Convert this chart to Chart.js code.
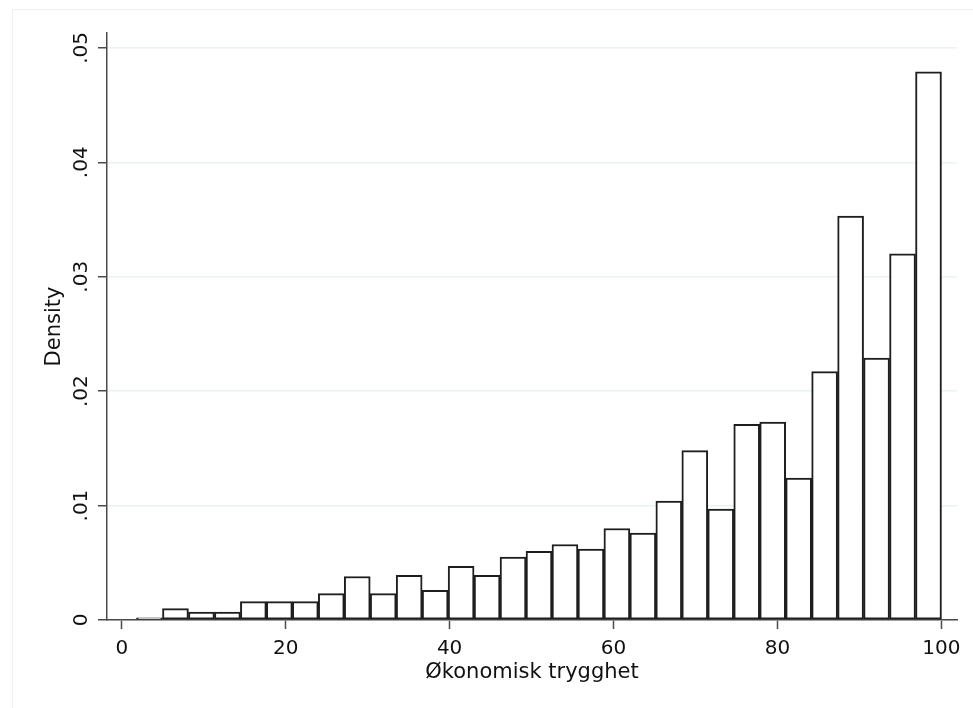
<!DOCTYPE html>
<html>
<head>
<meta charset="utf-8">
<script src="https://cdn.jsdelivr.net/npm/chart.js@4.4.0/dist/chart.umd.min.js"></script>
<style>
  html, body { margin: 0; padding: 0; background: #ffffff; }
  #wrap { position: relative; width: 973px; height: 708px; overflow: hidden; }
  #frame { position: absolute; left: 12px; top: 9px; width: 1000px; height: 800px;
           border-left: 1px solid #f1f1f1; border-top: 1px solid #f1f1f1; }
  #chart { position: absolute; left: 0; top: 0; }
</style>
</head>
<body>
<div id="wrap">
  <div id="frame"></div>
  <canvas id="chart" width="973" height="708"></canvas>
</div>
<script>
// histogram of "Økonomisk trygghet", 31 bins
const binStart = 1.8;
const binWidth = 3.168;
const density = [
  0.0002, 0.0010, 0.0007, 0.0007, 0.0016, 0.0016, 0.0016, 0.0023, 0.0038, 0.0023,
  0.0039, 0.0026, 0.0047, 0.0039, 0.0055, 0.0060, 0.0066, 0.0062, 0.0080, 0.0076,
  0.0104, 0.0148, 0.0097, 0.0171, 0.0173, 0.0124, 0.0217, 0.0353, 0.0229, 0.0320,
  0.0479
];
const xTicks = [0, 20, 40, 60, 80, 100];
const yTicks = [0, 0.01, 0.02, 0.03, 0.04, 0.05];

const xTitle = "Økonomisk trygghet";
const yTitle = "Density";

const points = density.map((d, i) => ({ x: binStart + binWidth * (i + 0.5), y: d }));

Chart.defaults.font.family = "'DejaVu Sans', sans-serif";
Chart.defaults.color = "#111";

const axisColor = "#4a4a4a";
const gridColor = "#eaf2f3";

new Chart(document.getElementById("chart"), {
  type: "bar",
  data: {
    datasets: [{
      data: points,
      backgroundColor: "#ffffff",
      borderColor: "#1e1e1e",
      borderWidth: 2,
      borderSkipped: false,
      barPercentage: 1,
      categoryPercentage: 1,
      grouped: false
    }]
  },
  options: {
    responsive: false,
    animation: false,
    layout: { padding: { left: 42, top: 33, right: 16, bottom: 23 } },
    plugins: { legend: { display: false }, tooltip: { enabled: false } },
    scales: {
      x: {
        type: "linear",
        offset: false,
        min: -1.8,
        max: 101.9,
        afterBuildTicks: (s) => { s.ticks = xTicks.map(v => ({ value: v })); },
        afterFit: (s) => { s.height = 65; s.paddingLeft = 0; s.paddingRight = 0; },
        grid: { offset: false, drawOnChartArea: false, drawTicks: true, tickLength: 9, tickColor: axisColor, tickWidth: 1.5 },
        border: { display: true, color: axisColor, width: 1.5 },
        ticks: { font: { size: 20 }, padding: 8, maxRotation: 0, autoSkip: false },
        title: { display: true, text: xTitle, font: { size: 21 }, color: "#111", padding: 0 }
      },
      y: {
        type: "linear",
        min: 0,
        max: 0.0513,
        afterBuildTicks: (s) => { s.ticks = yTicks.map(v => ({ value: v })); },
        afterFit: (s) => { s.width = 65; s.paddingTop = 0; s.paddingBottom = 0; },
        grid: { color: gridColor, lineWidth: 1.5, drawTicks: true, tickLength: 9, tickColor: axisColor, tickWidth: 1.5 },
        border: { display: true, color: axisColor, width: 1.5 },
        ticks: {
          font: { size: 20 },
          minRotation: 90,
          maxRotation: 90,
          crossAlign: "center",
          padding: 0,
          autoSkip: false,
          callback: (v) => v === 0 ? "0" : v.toFixed(2).replace(/^0/, "")
        },
        title: { display: true, text: yTitle, font: { size: 21 }, color: "#111", padding: 0 }
      }
    }
  }
});
</script>
</body>
</html>
